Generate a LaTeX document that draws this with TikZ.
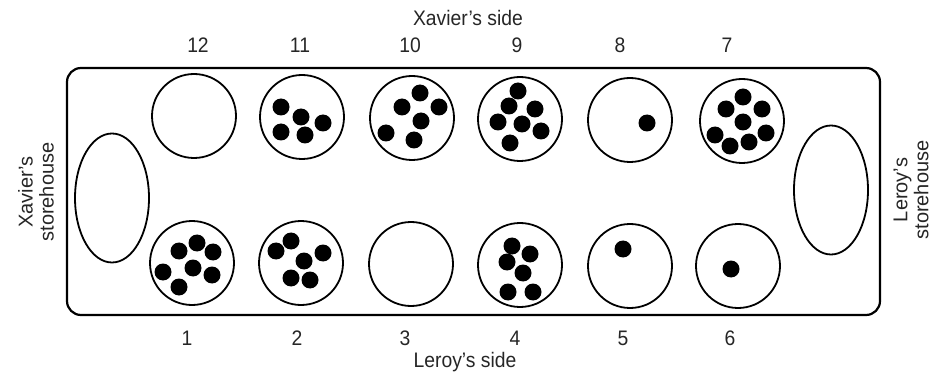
\documentclass[tikz,border=0pt]{standalone}
\usepackage{fontspec}
\setmainfont{Liberation Sans}
\usetikzlibrary{shapes.geometric}
\newcommand\mycnd[1]{\scalebox{0.92}[1]{#1}}
\begin{document}
\begin{tikzpicture}[x=1pt,y=-1pt,
  pit/.style={draw=black,line width=1.8pt,circle,minimum size=84pt,inner sep=0pt},
  store/.style={draw=black,line width=1.8pt,ellipse,minimum width=74pt,minimum height=129pt,inner sep=0pt},
  stone/.style={fill=black,circle,minimum size=17pt,inner sep=0pt},
  lbl/.style={font=\fontsize{21}{23}\selectfont,text=black!85,inner sep=0pt},
  slbl/.style={font=\fontsize{20}{21}\selectfont,text=black!85,inner sep=0pt,rotate=90,align=center},
  board/.style={draw=black,line width=2.2pt,rounded corners=14pt}]
\useasboundingbox (0,0) rectangle (938,377);
\fill[white] (0,0) rectangle (938,377);
\draw[board] (67,68) rectangle (880,315);
% stores
\node[store] (sx) at (112,198) {};
\node[store] (sl) at (831,190) {};
% top row pits
\node[pit] (p12) at (194,116) {};
\node[pit] (p11) at (302,117) {};
\node[pit] (p10) at (412,118) {};
\node[pit] (p9)  at (520,119) {};
\node[pit] (p8)  at (630,120) {};
\node[pit] (p7)  at (742,121) {};
% bottom row pits
\node[pit] (p1) at (192,263) {};
\node[pit] (p2) at (301,263) {};
\node[pit] (p3) at (411,264) {};
\node[pit] (p4) at (520,265) {};
\node[pit] (p5) at (630,266) {};
\node[pit] (p6) at (738,266) {};
% stones
\foreach \dx/\dy [count=\i] in {-21/-10,-1/0,21/6,-21/15,3/18}
  \node[stone] (s11-\i) at ([shift={(\dx,\dy)}]p11.center) {};
\foreach \dx/\dy [count=\i] in {8/-25,-10/-11,27/-11,9/3,-26/15,2/22}
  \node[stone] (s10-\i) at ([shift={(\dx,\dy)}]p10.center) {};
\foreach \dx/\dy [count=\i] in {-2/-28,-11/-13,15/-10,-22/3,2/5,21/12,-10/24}
  \node[stone] (s9-\i) at ([shift={(\dx,\dy)}]p9.center) {};
\node[stone] (s8-1) at ([shift={(17,3)}]p8.center) {};
\foreach \dx/\dy [count=\i] in {1/-24,-16/-12,20/-12,1/1,-27/14,24/12,-12/25,7/21}
  \node[stone] (s7-\i) at ([shift={(\dx,\dy)}]p7.center) {};
\foreach \dx/\dy [count=\i] in {5/-20,-13/-12,21/-11,1/5,-29/9,20/12,-13/24}
  \node[stone] (s1-\i) at ([shift={(\dx,\dy)}]p1.center) {};
\foreach \dx/\dy [count=\i] in {-10/-22,-25/-12,22/-10,3/-2,-10/15,9/17}
  \node[stone] (s2-\i) at ([shift={(\dx,\dy)}]p2.center) {};
\foreach \dx/\dy [count=\i] in {-8/-19,10/-11,-13/-3,3/8,-12/27,13/27}
  \node[stone] (s4-\i) at ([shift={(\dx,\dy)}]p4.center) {};
\node[stone] (s5-1) at ([shift={(-7,-17)}]p5.center) {};
\node[stone] (s6-1) at ([shift={(-7,3)}]p6.center) {};
% labels
\node[lbl] (tx) at (468,18) {\mycnd{Xavier’s side}};
\node[lbl] (tl) at (465,362) {\mycnd{Leroy’s side}};
\node[lbl] (n12) at (198,45) {\mycnd{12}};
\node[lbl] (n11) at (300,45) {\mycnd{11}};
\node[lbl] (n10) at (410,45) {\mycnd{10}};
\node[lbl] (n9)  at (517,45) {\mycnd{9}};
\node[lbl] (n8)  at (620,45) {\mycnd{8}};
\node[lbl] (n7)  at (727,45) {\mycnd{7}};
\node[lbl] (n1) at (187,338) {\mycnd{1}};
\node[lbl] (n2) at (297,338) {\mycnd{2}};
\node[lbl] (n3) at (405,338) {\mycnd{3}};
\node[lbl] (n4) at (515,338) {\mycnd{4}};
\node[lbl] (n5) at (623,338) {\mycnd{5}};
\node[lbl] (n6) at (730,338) {\mycnd{6}};
\node[slbl] (lx) at (36,192) {Xavier’s\\storehouse};
\node[slbl] (ll) at (911,190) {Leroy’s\\storehouse};
\end{tikzpicture}
\end{document}
